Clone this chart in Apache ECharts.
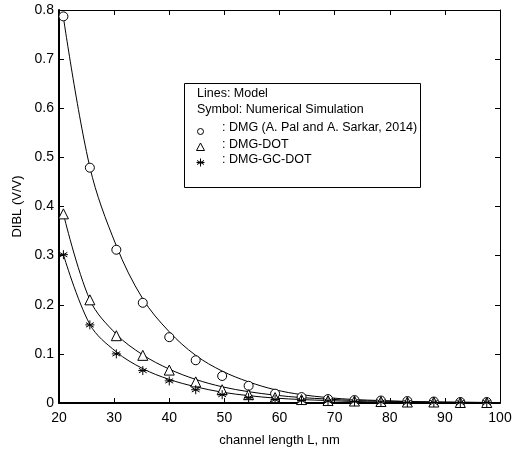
<!DOCTYPE html>
<html>
<head>
<meta charset="utf-8">
<script src="https://cdn.jsdelivr.net/npm/echarts@6/dist/echarts.min.js"></script>
<style>html,body{margin:0;padding:0;background:#fff;}#c{width:515px;height:452px;}</style>
</head>
<body>
<div id="c"></div>
<script>
var xTicks = [20, 30, 40, 50, 60, 70, 80, 90, 100];
var yTicks = [0, 0.1, 0.2, 0.3, 0.4, 0.5, 0.6, 0.7, 0.8];
var channelLength = [20.8, 25.6, 30.4, 35.2, 40, 44.8, 49.6, 54.4, 59.2, 64, 68.8, 73.6, 78.4, 83.2, 88, 92.8, 97.6];
var dmgModel    = [0.785, 0.480, 0.320, 0.212, 0.145, 0.097, 0.065, 0.043, 0.027, 0.017, 0.011, 0.007, 0.005, 0.003, 0.002, 0.0015, 0.001];
var dotModel    = [0.385, 0.210, 0.140, 0.098, 0.069, 0.048, 0.033, 0.023, 0.016, 0.011, 0.008, 0.005, 0.004, 0.003, 0.002, 0.0015, 0.001];
var gcdotModel  = [0.302, 0.160, 0.104, 0.070, 0.048, 0.033, 0.022, 0.015, 0.010, 0.007, 0.005, 0.003, 0.002, 0.002, 0.001, 0.001, 0.001];
var dmgSim      = [0.787, 0.479, 0.312, 0.204, 0.134, 0.087, 0.055, 0.035, 0.019, 0.012, 0.008, 0.006, 0.005, 0.004, 0.003, 0.002, 0.002];
var dotSim      = [0.385, 0.210, 0.137, 0.097, 0.067, 0.043, 0.027, 0.017, 0.011, 0.007, 0.005, 0.004, 0.003, 0.002, 0.002, 0.001, 0.001];
var gcdotSim    = [0.302, 0.159, 0.100, 0.066, 0.045, 0.027, 0.017, 0.011, 0.007, 0.005, 0.004, 0.003, 0.002, 0.001, 0.001, 0.001, 0.001];
var legendTitle = ['Lines: Model', 'Symbol: Numerical Simulation'];
var legendNames = [': DMG (A. Pal and A. Sarkar, 2014)', ': DMG-DOT', ': DMG-GC-DOT'];

function pairs(xs, ys) { return xs.map(function (x, i) { return [x, ys[i]]; }); }
var FONT = 'Liberation Sans, Arial, sans-serif';
var STAR = 'path://M0,-5L0,5M-4.33,-2.5L4.33,2.5M-4.33,2.5L4.33,-2.5M-5,0L5,0';

function lineSeries(data) {
  return { type: 'line', data: pairs(channelLength, data), smooth: 0.35, symbol: 'none',
    lineStyle: { color: '#000', width: 1 }, z: 2, silent: true };
}
function symSeries(data, symbol, size) {
  return { type: 'scatter', data: pairs(channelLength, data), symbol: symbol, symbolSize: size,
    itemStyle: { color: symbol === STAR ? 'none' : '#fff', borderColor: '#000', borderWidth: 1, opacity: 1 }, z: 3 };
}
function seg(x1, y1, x2, y2) {
  return { type: 'line', shape: { x1: x1, y1: y1, x2: x2, y2: y2 }, style: { stroke: '#000', lineWidth: 1 }, z: 11 };
}
var LF = '12.5px ' + FONT;

var chart = echarts.init(document.getElementById('c'), null, { renderer: 'canvas' });
var axisCommonX = { type: 'value', min: xTicks[0], max: xTicks[xTicks.length - 1], interval: 10 };
var axisCommonY = { type: 'value', min: yTicks[0], max: yTicks[yTicks.length - 1], interval: 0.1 };
chart.setOption({
  animation: false,
  backgroundColor: '#fff',
  grid: { left: 59, right: 15, top: 10, bottom: 46 },
  xAxis: [
    Object.assign({}, axisCommonX, {
      position: 'bottom',
      name: 'channel length L, nm', nameLocation: 'middle', nameGap: 31,
      nameTextStyle: { fontFamily: FONT, fontSize: 13, color: '#000' },
      axisLine: { show: true, lineStyle: { color: '#000', width: 2 } },
      axisTick: { show: true, inside: true, length: 5, lineStyle: { color: '#000', width: 1 } },
      axisLabel: { fontFamily: FONT, fontSize: 14, color: '#000', margin: 8 },
      splitLine: { show: false }
    }),
    Object.assign({}, axisCommonX, {
      position: 'top',
      axisLine: { show: true, onZero: false, lineStyle: { color: '#000', width: 1 } },
      axisTick: { show: true, inside: true, length: 5, lineStyle: { color: '#000', width: 1 } },
      axisLabel: { show: false }, splitLine: { show: false }
    })
  ],
  yAxis: [
    Object.assign({}, axisCommonY, {
      position: 'left',
      name: 'DIBL (V/V)', nameLocation: 'middle', nameGap: 31, nameRotate: 90,
      nameTextStyle: { fontFamily: FONT, fontSize: 13, color: '#000' },
      axisLine: { show: true, lineStyle: { color: '#000', width: 2 } },
      axisTick: { show: true, inside: true, length: 5, lineStyle: { color: '#000', width: 1 } },
      axisLabel: { fontFamily: FONT, fontSize: 14, color: '#000', margin: 5,
        formatter: function (v) { return v === 0 ? '0' : v.toFixed(1); } },
      splitLine: { show: false }
    }),
    Object.assign({}, axisCommonY, {
      position: 'right',
      axisLine: { show: true, onZero: false, lineStyle: { color: '#000', width: 1 } },
      axisTick: { show: true, inside: true, length: 5, lineStyle: { color: '#000', width: 1 } },
      axisLabel: { show: false }, splitLine: { show: false }
    })
  ],
  series: [
    lineSeries(dmgModel),
    lineSeries(dotModel),
    lineSeries(gcdotModel),
    symSeries(dmgSim, 'circle', 9),
    symSeries(dotSim, 'triangle', 10),
    symSeries(gcdotSim, STAR, 9)
  ],
  graphic: [
    { type: 'rect', shape: { x: 184.5, y: 83.5, width: 236, height: 104 },
      style: { fill: '#fff', stroke: '#000', lineWidth: 1 }, z: 10 },
    { type: 'text', x: 197, y: 94, style: { text: legendTitle[0], font: LF, fill: '#000', textVerticalAlign: 'middle' }, z: 11 },
    { type: 'text', x: 197, y: 110, style: { text: legendTitle[1], font: LF, fill: '#000', textVerticalAlign: 'middle' }, z: 11 },
    { type: 'circle', shape: { cx: 200.5, cy: 131.5, r: 3 }, style: { fill: '#fff', stroke: '#000', lineWidth: 1 }, z: 11 },
    { type: 'polygon', shape: { points: [[200.5, 143], [196.5, 150.5], [204.5, 150.5]] }, style: { fill: '#fff', stroke: '#000', lineWidth: 1 }, z: 11 },
    seg(200.5, 158.5, 200.5, 166.5),
    seg(197, 160.5, 204, 164.5),
    seg(197, 164.5, 204, 160.5),
    seg(196.5, 162.5, 204.5, 162.5),
    { type: 'text', x: 222, y: 128, style: { text: legendNames[0], font: LF, fill: '#000', textVerticalAlign: 'middle' }, z: 11 },
    { type: 'text', x: 222, y: 145, style: { text: legendNames[1], font: LF, fill: '#000', textVerticalAlign: 'middle' }, z: 11 },
    { type: 'text', x: 222, y: 160, style: { text: legendNames[2], font: LF, fill: '#000', textVerticalAlign: 'middle' }, z: 11 }
  ]
});
</script>
</body>
</html>
